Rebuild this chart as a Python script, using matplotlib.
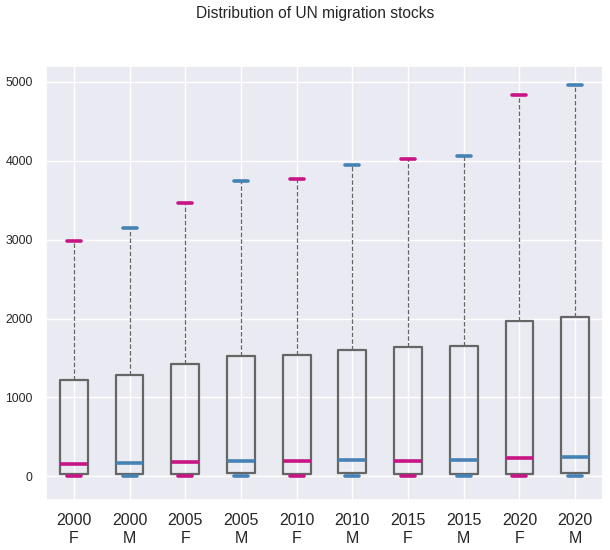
"""Box plot of UN migration stocks by year and sex."""

import matplotlib

matplotlib.use("Agg")
import matplotlib.pyplot as plt
import seaborn as sns

years = ["2000", "2000", "2005", "2005", "2010", "2010", "2015", "2015", "2020", "2020"]
sexes = ["F", "M", "F", "M", "F", "M", "F", "M", "F", "M"]
whisker_low = [0, 0, 0, 0, 0, 0, 0, 0, 0, 0]
q1 = [25, 25, 25, 42, 25, 42, 25, 30, 25, 42]
medians = [152, 165, 177, 190, 190, 203, 190, 203, 228, 241]
q3 = [1219, 1286, 1425, 1527, 1539, 1603, 1641, 1653, 1970, 2020]
whisker_high = [2984, 3145, 3462, 3742, 3767, 3945, 4021, 4060, 4835, 4962]

SEX_COLORS = {"F": "#c71585", "M": "#4682b4"}
BOX_GRAY = "#666666"

sns.set_theme(style="darkgrid")
plt.rcParams["font.family"] = ["Liberation Sans", "DejaVu Sans"]

stats = [
    {
        "label": f"{year}\n{sex}",
        "whislo": lo,
        "q1": a,
        "med": m,
        "q3": b,
        "whishi": hi,
        "fliers": [],
    }
    for year, sex, lo, a, m, b, hi in zip(years, sexes, whisker_low, q1, medians, q3, whisker_high)
]

figure = plt.figure(figsize=(6.1, 5.5), dpi=100)
axis = figure.add_axes([0.0754, 0.0909, 0.9131, 0.7891])
parts = axis.bxp(
    stats,
    widths=0.5,
    showfliers=False,
    boxprops={"color": BOX_GRAY, "linewidth": 1.6},
    whiskerprops={"color": BOX_GRAY, "linewidth": 0.9, "linestyle": "--"},
    capprops={"linewidth": 2.6},
    medianprops={"linewidth": 2.6},
)
for index, sex in enumerate(sexes):
    color = SEX_COLORS[sex]
    parts["medians"][index].set_color(color)
    parts["caps"][2 * index].set_color(color)
    parts["caps"][2 * index + 1].set_color(color)

axis.set_xlim(0.5, 10.5)
axis.set_ylim(-300, 5200)
axis.set_yticks([0, 1000, 2000, 3000, 4000, 5000])
axis.tick_params(axis="x", labelsize=11.5, pad=3.5)
axis.tick_params(axis="y", labelsize=8.8)
axis.grid(True, axis="both", color="white", linewidth=1.0)
figure.suptitle(
    "Distribution of UN migration stocks", fontsize=11.2, x=0.516, y=0.975, va="center"
)
figure.savefig("out.png", dpi=100)
